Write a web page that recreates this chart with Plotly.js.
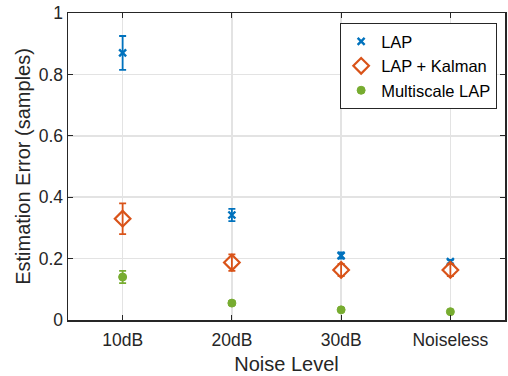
<!DOCTYPE html>
<html><head><meta charset="utf-8">
<script src="https://cdn.plot.ly/plotly-3.0.1.min.js"></script>
<style>html,body{margin:0;padding:0;background:#fff}</style>
</head><body>
<div id="chart" style="width:508px;height:376px"></div>
<script>
const categories = ["10dB", "20dB", "30dB", "Noiseless"];
const xPos = [1, 2, 3, 4];
const lapMean = [0.87, 0.342, 0.21, 0.19];
const lapErr = [0.055, 0.02, 0.01, 0.006];
const kalMean = [0.33, 0.187, 0.163, 0.163];
const kalErr = [0.05, 0.027, 0.02, 0.02];
const msMean = [0.14, 0.055, 0.033, 0.027];
const msErr = [0.02, 0.006, 0.004, 0.004];
const yTicks = [0, 0.2, 0.4, 0.6, 0.8, 1];
const yTickText = ["0", "0.2", "0.4", "0.6", "0.8", "1"];

const font = "Liberation Sans, Arial, Helvetica, sans-serif";
function tr(name, y, e, color, symbol, size, lw) {
  return {
    x: xPos, y: y, name: name, type: "scatter", mode: "markers",
    marker: {color: color, symbol: symbol, size: size, line: {color: color, width: lw}},
    error_y: {type: "data", array: e, visible: true, color: color, thickness: 1.8, width: 3.5}
  };
}
const data = [
  tr("LAP", lapMean, lapErr, "#0072BD", "x-thin-open", 7, 2.4),
  tr("LAP + Kalman", kalMean, kalErr, "#D95319", "diamond-open", 12, 2.2),
  tr("Multiscale LAP", msMean, msErr, "#77AC30", "circle", 8, 1)
];
const layout = {
  width: 508, height: 376,
  margin: {l: 68, r: 3, t: 13, b: 56},
  paper_bgcolor: "#fff", plot_bgcolor: "#fff",
  font: {family: font, size: 18, color: "#262626"},
  showlegend: true,
  legend: {x: 0.982, y: 0.967, xanchor: "right", yanchor: "top",
    bordercolor: "#262626", borderwidth: 1, bgcolor: "#fff",
    font: {family: font, size: 16.5, color: "#000"}, tracegroupgap: 0, itemwidth: 30},
  xaxis: {
    range: [0.5, 4.5], tickmode: "array", tickvals: xPos, ticktext: categories,
    showgrid: true, gridcolor: "#e3e3e3", gridwidth: 1.5,
    showline: true, linecolor: "#262626", linewidth: 1.5, mirror: "ticks",
    ticks: "inside", ticklen: 5, tickcolor: "#262626", zeroline: false,
    ticklabelstandoff: 3,
    tickfont: {size: 17.5, color: "#262626"},
    title: {text: "Noise Level", font: {size: 20, color: "#262626"}, standoff: 8}
  },
  yaxis: {
    range: [0, 1], tickmode: "array", tickvals: yTicks, ticktext: yTickText,
    showgrid: true, gridcolor: "#e3e3e3", gridwidth: 1.5,
    showline: true, linecolor: "#262626", linewidth: 1.5, mirror: "ticks",
    ticks: "inside", ticklen: 5, tickcolor: "#262626", zeroline: false,
    tickfont: {size: 17.5, color: "#262626"},
    title: {text: "Estimation Error (samples)", font: {size: 20, color: "#262626"}, standoff: 2}
  }
};
Plotly.newPlot("chart", data, layout, {displayModeBar: false, staticPlot: true});
</script>
</body></html>
